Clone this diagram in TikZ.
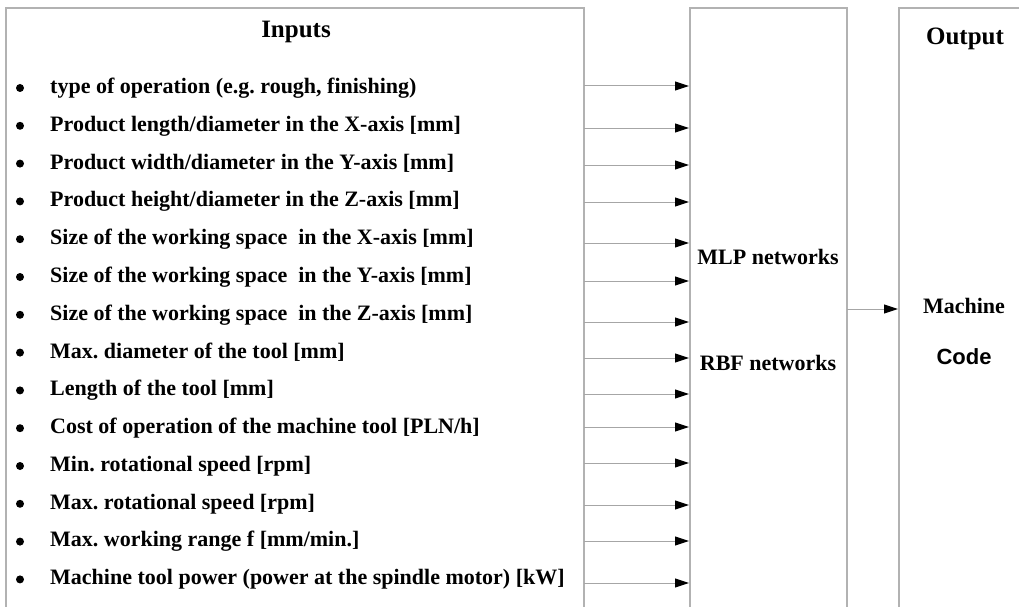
\documentclass[tikz,border=0pt]{standalone}
\usepackage{fontspec}
\setmainfont{Liberation Serif}
\newfontfamily\arialfont{Liberation Sans}
\usetikzlibrary{arrows.meta}
\frenchspacing
\begin{document}
\begin{tikzpicture}[x=1pt,y=-1pt,
  frame/.style={draw=black!30,line width=1.6pt},
  item/.style={anchor=west,inner sep=0pt,font=\bfseries\fontsize{22}{24}\selectfont},
  bul/.style={circle,fill=black,inner sep=0pt,minimum size=8pt},
  head/.style={inner sep=0pt,font=\bfseries\fontsize{25}{28}\selectfont},
  lab/.style={inner sep=0pt,font=\bfseries\fontsize{22}{24}\selectfont},
  arr/.style={draw=black!35,line width=1pt,-{Triangle[length=14pt,width=9pt,color=black]}}]
\useasboundingbox (0,0) rectangle (1019,607);
% boxes (open at bottom)
\draw[frame] (6,607) -- (6,8) -- (584,8) -- (584,607);
\draw[frame] (690,607) -- (690,8) -- (847,8) -- (847,607);
\draw[frame] (899,607) -- (899,8) -- (1019,8);
% headings
\node[head] (inputs) at (296,32) {Inputs};
\node[head] (output) at (965,39) {Output};
% items
\foreach \i/\t/\ay in {
 1/{type of operation (e.g. rough, finishing)}/86,
 2/{Product length/diameter in the X-axis [mm]}/128,
 3/{Product width/diameter in the Y-axis [mm]}/165,
 4/{Product height/diameter in the Z-axis [mm]}/202,
 5/{Size of the working space\ \ in the X-axis [mm]}/243,
 6/{Size of the working space\ \ in the Y-axis [mm]}/281,
 7/{Size of the working space\ \ in the Z-axis [mm]}/322,
 8/{Max. diameter of the tool [mm]}/358,
 9/{Length of the tool [mm]}/394,
 10/{Cost of operation of the machine tool [PLN/h]}/427,
 11/{Min. rotational speed [rpm]}/463,
 12/{Max. rotational speed [rpm]}/505,
 13/{Max. working range f [mm/min.]}/541,
 14/{Machine tool power (power at the spindle motor) [kW]}/583}{
  \pgfmathsetmacro{\ty}{88+(\i-1)*37.8}
  \node[bul] (b\i) at (20,\ty) {};
  \node[item] (t\i) at (50,\ty) {\t};
  \coordinate (s\i) at (584,\ay);
  \coordinate (e\i) at (689,\ay);
  \draw[arr] (s\i) -- (e\i);
}
% middle
\node[lab] (mlp) at (768,257) {MLP networks};
\node[lab] (rbf) at (768,363) {RBF networks};
% output
\node[lab] (machine) at (964,306) {Machine};
\node[inner sep=0pt,font=\arialfont\bfseries\fontsize{22}{24}\selectfont] (code) at (964,357) {Code};
\coordinate (o1) at (847,309);
\coordinate (o2) at (898,309);
\draw[arr] (o1) -- (o2);
\end{tikzpicture}
\end{document}
